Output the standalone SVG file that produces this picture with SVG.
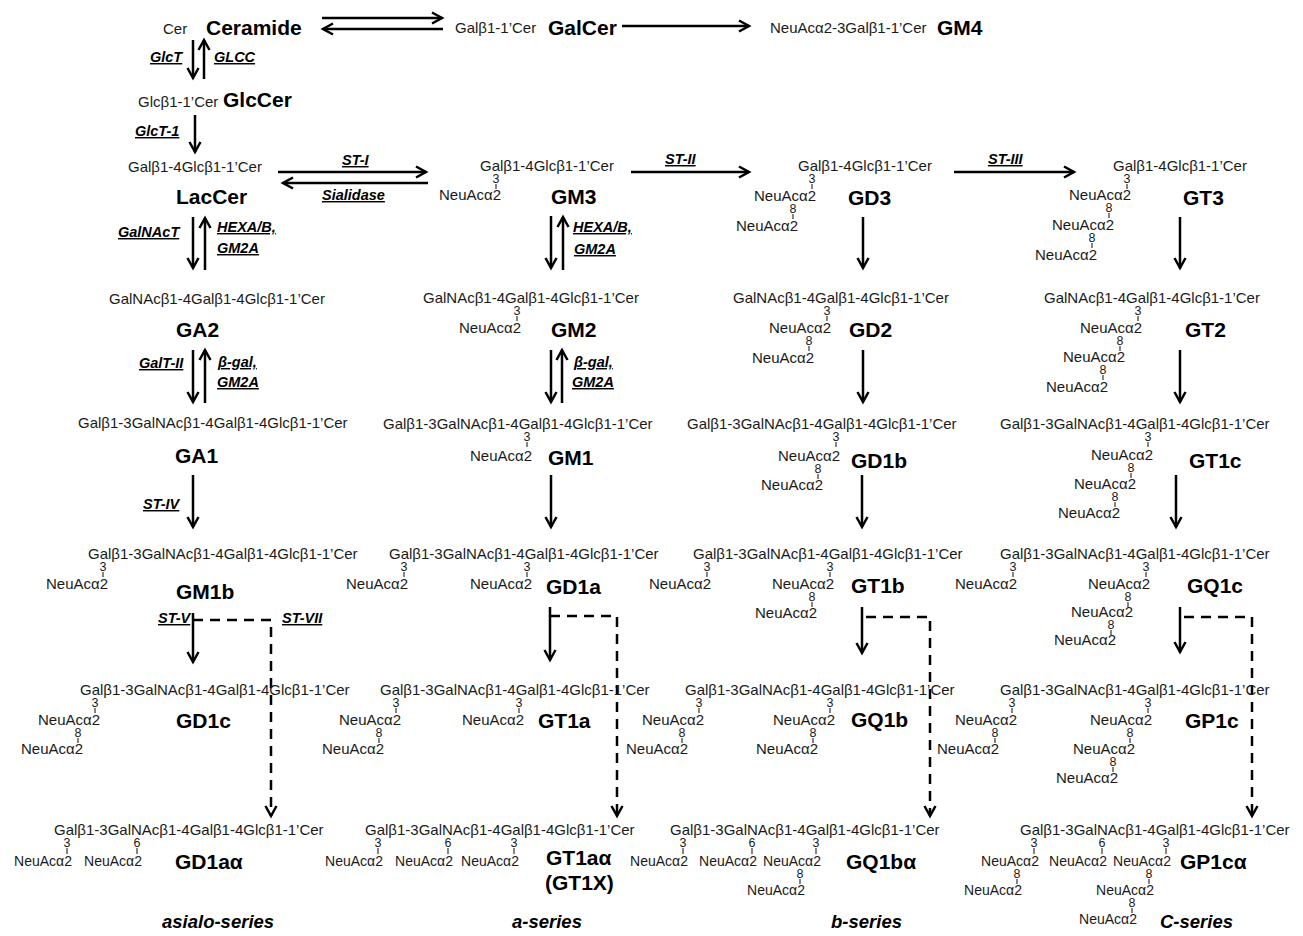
<svg xmlns="http://www.w3.org/2000/svg" width="1303" height="936" viewBox="0 0 1303 936">
<style>
text{font-family:"Liberation Sans",Arial,sans-serif;fill:#1a1a1a}
.t{font-size:15px}
.n{font-size:15px;text-anchor:end}
.m{font-size:15px}
.d{font-size:12.5px;text-anchor:middle}
.b{font-size:21px;font-weight:bold;fill:#000}
.e{font-size:14.5px;font-weight:bold;font-style:italic;text-decoration:underline;fill:#000}
.s{font-size:18.5px;font-weight:bold;font-style:italic;fill:#000}
.k{stroke:#333;stroke-width:1.2}
.a{stroke:#000;stroke-width:2.5;fill:none;marker-end:url(#ah)}
.ds{stroke-dasharray:10 7}
</style>
<defs>
<marker id="ah" viewBox="-13 -8 16 16" refX="0" refY="0" markerWidth="16" markerHeight="16" markerUnits="userSpaceOnUse" orient="auto">
<path d="M-10,-5.5 L0,0 L-10,5.5" fill="none" stroke="#000" stroke-width="2.5"/>
</marker>
</defs>
<rect width="1303" height="936" fill="#fff"/>

<g id="connectors">
<line class="a" x1="322" y1="18" x2="442" y2="18"/>
<line class="a" x1="443" y1="29" x2="323" y2="29"/>
<line class="a" x1="622" y1="26" x2="749" y2="26"/>
<line class="a" x1="193" y1="40" x2="193" y2="78"/>
<line class="a" x1="204" y1="79" x2="204" y2="40"/>
<line class="a" x1="195" y1="115" x2="195" y2="152"/>
<line class="a" x1="278" y1="172" x2="426" y2="172"/>
<line class="a" x1="428" y1="183" x2="283" y2="183"/>
<line class="a" x1="631" y1="172" x2="749" y2="172"/>
<line class="a" x1="954" y1="172" x2="1074" y2="172"/>
<line class="a" x1="193" y1="217" x2="193" y2="268"/>
<line class="a" x1="205" y1="270" x2="205" y2="218"/>
<line class="a" x1="551" y1="216" x2="551" y2="268"/>
<line class="a" x1="563" y1="270" x2="563" y2="217"/>
<line class="a" x1="863" y1="217" x2="863" y2="268"/>
<line class="a" x1="1180" y1="217" x2="1180" y2="268"/>
<line class="a" x1="193" y1="350" x2="193" y2="402"/>
<line class="a" x1="205" y1="403" x2="205" y2="350"/>
<line class="a" x1="551" y1="350" x2="551" y2="402"/>
<line class="a" x1="562" y1="403" x2="562" y2="350"/>
<line class="a" x1="863" y1="350" x2="863" y2="402"/>
<line class="a" x1="1180" y1="350" x2="1180" y2="402"/>
<line class="a" x1="193" y1="475" x2="193" y2="527"/>
<line class="a" x1="551" y1="475" x2="551" y2="527"/>
<line class="a" x1="862" y1="475" x2="862" y2="527"/>
<line class="a" x1="1176" y1="475" x2="1176" y2="527"/>
<line class="a" x1="193" y1="613" x2="193" y2="662"/>
<polyline class="a ds" points="193,620 271,620 271,816"/>
<line class="a" x1="550" y1="607" x2="550" y2="660"/>
<polyline class="a ds" points="550,616 617,616 617,816"/>
<line class="a" x1="862" y1="607" x2="862" y2="653"/>
<polyline class="a ds" points="866,617 930,617 930,816"/>
<line class="a" x1="1180" y1="607" x2="1180" y2="652"/>
<polyline class="a ds" points="1184,617 1252,617 1252,816"/>
</g>

<g id="enzymes">
<text class="e" x="150" y="62">GlcT</text>
<text class="e" x="214" y="62">GLCC</text>
<text class="e" x="135" y="136">GlcT-1</text>
<text class="e" x="342" y="165">ST-I</text>
<text class="e" x="322" y="200">Sialidase</text>
<text class="e" x="665" y="164">ST-II</text>
<text class="e" x="988" y="164">ST-III</text>
<text class="e" x="118" y="237">GalNAcT</text>
<text class="e" x="217" y="232">HEXA/B,</text>
<text class="e" x="217" y="253">GM2A</text>
<text class="e" x="573" y="232">HEXA/B,</text>
<text class="e" x="574" y="254">GM2A</text>
<text class="e" x="139" y="368">GalT-II</text>
<text class="e" x="218" y="367">β-gal,</text>
<text class="e" x="217" y="387">GM2A</text>
<text class="e" x="574" y="367">β-gal,</text>
<text class="e" x="572" y="387">GM2A</text>
<text class="e" x="143" y="509">ST-IV</text>
<text class="e" x="158" y="623">ST-V</text>
<text class="e" x="282" y="623">ST-VII</text>
</g>

<g id="Ceramide">
<text class="t" x="163" y="34">Cer</text>
<text class="b" x="206" y="35">Ceramide</text>
</g>
<g id="GalCer">
<text class="t" x="455" y="33">Galβ1-1’Cer</text>
<text class="b" x="548" y="35">GalCer</text>
</g>
<g id="GM4">
<text class="t" x="770" y="33">NeuAcα2-3Galβ1-1’Cer</text>
<text class="b" x="937" y="35">GM4</text>
</g>
<g id="GlcCer">
<text class="t" x="138" y="107">Glcβ1-1’Cer</text>
<text class="b" x="223" y="107">GlcCer</text>
</g>
<g id="LacCer">
<text class="t" x="128" y="172">Galβ1-4Glcβ1-1’Cer</text>
<text class="b" x="176" y="204">LacCer</text>
</g>
<g id="GM3">
<text class="t" x="480" y="171">Galβ1-4Glcβ1-1’Cer</text>
<text class="d" x="496" y="183">3</text><line class="k" x1="496" y1="184" x2="496" y2="189"/>
<text class="n" x="501" y="200">NeuAcα2</text>
<text class="b" x="551" y="204">GM3</text>
</g>
<g id="GD3">
<text class="t" x="798" y="171">Galβ1-4Glcβ1-1’Cer</text>
<text class="d" x="812" y="183">3</text><line class="k" x1="812" y1="184" x2="812" y2="189"/>
<text class="n" x="816" y="201">NeuAcα2</text>
<text class="d" x="793" y="213">8</text><line class="k" x1="793" y1="214" x2="793" y2="219"/>
<text class="n" x="798" y="231">NeuAcα2</text>
<text class="b" x="848" y="205">GD3</text>
</g>
<g id="GT3">
<text class="t" x="1113" y="171">Galβ1-4Glcβ1-1’Cer</text>
<text class="d" x="1127" y="183">3</text><line class="k" x1="1127" y1="184" x2="1127" y2="189"/>
<text class="n" x="1131" y="200">NeuAcα2</text>
<text class="d" x="1109" y="212">8</text><line class="k" x1="1109" y1="213" x2="1109" y2="218"/>
<text class="n" x="1114" y="230">NeuAcα2</text>
<text class="d" x="1092" y="242">8</text><line class="k" x1="1092" y1="243" x2="1092" y2="248"/>
<text class="n" x="1097" y="260">NeuAcα2</text>
<text class="b" x="1183" y="205">GT3</text>
</g>
<g id="GA2">
<text class="t" x="109" y="304">GalNAcβ1-4Galβ1-4Glcβ1-1’Cer</text>
<text class="b" x="176" y="337">GA2</text>
</g>
<g id="GM2">
<text class="t" x="423" y="303">GalNAcβ1-4Galβ1-4Glcβ1-1’Cer</text>
<text class="d" x="517" y="315">3</text><line class="k" x1="517" y1="316" x2="517" y2="321"/>
<text class="n" x="521" y="333">NeuAcα2</text>
<text class="b" x="551" y="337">GM2</text>
</g>
<g id="GD2">
<text class="t" x="733" y="303">GalNAcβ1-4Galβ1-4Glcβ1-1’Cer</text>
<text class="d" x="827" y="315">3</text><line class="k" x1="827" y1="316" x2="827" y2="321"/>
<text class="n" x="831" y="333">NeuAcα2</text>
<text class="d" x="809" y="345">8</text><line class="k" x1="809" y1="346" x2="809" y2="351"/>
<text class="n" x="814" y="363">NeuAcα2</text>
<text class="b" x="849" y="337">GD2</text>
</g>
<g id="GT2">
<text class="t" x="1044" y="303">GalNAcβ1-4Galβ1-4Glcβ1-1’Cer</text>
<text class="d" x="1138" y="315">3</text><line class="k" x1="1138" y1="316" x2="1138" y2="321"/>
<text class="n" x="1142" y="333">NeuAcα2</text>
<text class="d" x="1120" y="345">8</text><line class="k" x1="1120" y1="346" x2="1120" y2="351"/>
<text class="n" x="1125" y="362">NeuAcα2</text>
<text class="d" x="1103" y="374">8</text><line class="k" x1="1103" y1="375" x2="1103" y2="380"/>
<text class="n" x="1108" y="392">NeuAcα2</text>
<text class="b" x="1185" y="337">GT2</text>
</g>
<g id="GA1">
<text class="t" x="78" y="428">Galβ1-3GalNAcβ1-4Galβ1-4Glcβ1-1’Cer</text>
<text class="b" x="175" y="463">GA1</text>
</g>
<g id="GM1">
<text class="t" x="383" y="429">Galβ1-3GalNAcβ1-4Galβ1-4Glcβ1-1’Cer</text>
<text class="d" x="527" y="441">3</text><line class="k" x1="527" y1="442" x2="527" y2="447"/>
<text class="n" x="532" y="461">NeuAcα2</text>
<text class="b" x="548" y="465">GM1</text>
</g>
<g id="GD1b">
<text class="t" x="687" y="429">Galβ1-3GalNAcβ1-4Galβ1-4Glcβ1-1’Cer</text>
<text class="d" x="836" y="441">3</text><line class="k" x1="836" y1="442" x2="836" y2="447"/>
<text class="n" x="840" y="461">NeuAcα2</text>
<text class="d" x="818" y="473">8</text><line class="k" x1="818" y1="474" x2="818" y2="479"/>
<text class="n" x="823" y="490">NeuAcα2</text>
<text class="b" x="851" y="468">GD1b</text>
</g>
<g id="GT1c">
<text class="t" x="1000" y="429">Galβ1-3GalNAcβ1-4Galβ1-4Glcβ1-1’Cer</text>
<text class="d" x="1148" y="441">3</text><line class="k" x1="1148" y1="442" x2="1148" y2="447"/>
<text class="n" x="1153" y="460">NeuAcα2</text>
<text class="d" x="1131" y="472">8</text><line class="k" x1="1131" y1="473" x2="1131" y2="478"/>
<text class="n" x="1136" y="489">NeuAcα2</text>
<text class="d" x="1115" y="501">8</text><line class="k" x1="1115" y1="502" x2="1115" y2="507"/>
<text class="n" x="1120" y="518">NeuAcα2</text>
<text class="b" x="1189" y="468">GT1c</text>
</g>
<g id="GM1b">
<text class="t" x="88" y="559">Galβ1-3GalNAcβ1-4Galβ1-4Glcβ1-1’Cer</text>
<text class="d" x="103" y="571">3</text><line class="k" x1="103" y1="572" x2="103" y2="577"/>
<text class="n" x="108" y="589">NeuAcα2</text>
<text class="b" x="176" y="599">GM1b</text>
</g>
<g id="GD1a">
<text class="t" x="389" y="559">Galβ1-3GalNAcβ1-4Galβ1-4Glcβ1-1’Cer</text>
<text class="d" x="404" y="571">3</text><line class="k" x1="404" y1="572" x2="404" y2="577"/>
<text class="n" x="408" y="589">NeuAcα2</text>
<text class="d" x="527" y="571">3</text><line class="k" x1="527" y1="572" x2="527" y2="577"/>
<text class="n" x="532" y="589">NeuAcα2</text>
<text class="b" x="546" y="594">GD1a</text>
</g>
<g id="GT1b">
<text class="t" x="693" y="559">Galβ1-3GalNAcβ1-4Galβ1-4Glcβ1-1’Cer</text>
<text class="d" x="707" y="571">3</text><line class="k" x1="707" y1="572" x2="707" y2="577"/>
<text class="n" x="711" y="589">NeuAcα2</text>
<text class="d" x="830" y="571">3</text><line class="k" x1="830" y1="572" x2="830" y2="577"/>
<text class="n" x="834" y="589">NeuAcα2</text>
<text class="d" x="812" y="601">8</text><line class="k" x1="812" y1="602" x2="812" y2="607"/>
<text class="n" x="817" y="618">NeuAcα2</text>
<text class="b" x="851" y="593">GT1b</text>
</g>
<g id="GQ1c">
<text class="t" x="1000" y="559">Galβ1-3GalNAcβ1-4Galβ1-4Glcβ1-1’Cer</text>
<text class="d" x="1013" y="571">3</text><line class="k" x1="1013" y1="572" x2="1013" y2="577"/>
<text class="n" x="1017" y="589">NeuAcα2</text>
<text class="d" x="1146" y="571">3</text><line class="k" x1="1146" y1="572" x2="1146" y2="577"/>
<text class="n" x="1150" y="589">NeuAcα2</text>
<text class="d" x="1128" y="601">8</text><line class="k" x1="1128" y1="602" x2="1128" y2="607"/>
<text class="n" x="1133" y="617">NeuAcα2</text>
<text class="d" x="1111" y="629">8</text><line class="k" x1="1111" y1="630" x2="1111" y2="635"/>
<text class="n" x="1116" y="645">NeuAcα2</text>
<text class="b" x="1187" y="593">GQ1c</text>
</g>
<g id="GD1c">
<text class="t" x="80" y="695">Galβ1-3GalNAcβ1-4Galβ1-4Glcβ1-1’Cer</text>
<text class="d" x="95" y="707">3</text><line class="k" x1="95" y1="708" x2="95" y2="713"/>
<text class="n" x="100" y="725">NeuAcα2</text>
<text class="d" x="78" y="737">8</text><line class="k" x1="78" y1="738" x2="78" y2="743"/>
<text class="n" x="83" y="754">NeuAcα2</text>
<text class="b" x="176" y="728">GD1c</text>
</g>
<g id="GT1a">
<text class="t" x="380" y="695">Galβ1-3GalNAcβ1-4Galβ1-4Glcβ1-1’Cer</text>
<text class="d" x="396" y="707">3</text><line class="k" x1="396" y1="708" x2="396" y2="713"/>
<text class="n" x="401" y="725">NeuAcα2</text>
<text class="d" x="379" y="737">8</text><line class="k" x1="379" y1="738" x2="379" y2="743"/>
<text class="n" x="384" y="754">NeuAcα2</text>
<text class="d" x="519" y="707">3</text><line class="k" x1="519" y1="708" x2="519" y2="713"/>
<text class="n" x="524" y="725">NeuAcα2</text>
<text class="b" x="538" y="728">GT1a</text>
</g>
<g id="GQ1b">
<text class="t" x="685" y="695">Galβ1-3GalNAcβ1-4Galβ1-4Glcβ1-1’Cer</text>
<text class="d" x="699" y="707">3</text><line class="k" x1="699" y1="708" x2="699" y2="713"/>
<text class="n" x="704" y="725">NeuAcα2</text>
<text class="d" x="682" y="737">8</text><line class="k" x1="682" y1="738" x2="682" y2="743"/>
<text class="n" x="688" y="754">NeuAcα2</text>
<text class="d" x="830" y="707">3</text><line class="k" x1="830" y1="708" x2="830" y2="713"/>
<text class="n" x="835" y="725">NeuAcα2</text>
<text class="d" x="813" y="737">8</text><line class="k" x1="813" y1="738" x2="813" y2="743"/>
<text class="n" x="818" y="754">NeuAcα2</text>
<text class="b" x="851" y="727">GQ1b</text>
</g>
<g id="GP1c">
<text class="t" x="1000" y="695">Galβ1-3GalNAcβ1-4Galβ1-4Glcβ1-1’Cer</text>
<text class="d" x="1012" y="707">3</text><line class="k" x1="1012" y1="708" x2="1012" y2="713"/>
<text class="n" x="1017" y="725">NeuAcα2</text>
<text class="d" x="995" y="737">8</text><line class="k" x1="995" y1="738" x2="995" y2="743"/>
<text class="n" x="999" y="754">NeuAcα2</text>
<text class="d" x="1148" y="707">3</text><line class="k" x1="1148" y1="708" x2="1148" y2="713"/>
<text class="n" x="1152" y="725">NeuAcα2</text>
<text class="d" x="1130" y="737">8</text><line class="k" x1="1130" y1="738" x2="1130" y2="743"/>
<text class="n" x="1135" y="754">NeuAcα2</text>
<text class="d" x="1113" y="766">8</text><line class="k" x1="1113" y1="767" x2="1113" y2="772"/>
<text class="n" x="1118" y="783">NeuAcα2</text>
<text class="b" x="1185" y="728">GP1c</text>
</g>
<g id="GD1aalpha">
<text class="t" x="54" y="835">Galβ1-3GalNAcβ1-4Galβ1-4Glcβ1-1’Cer</text>
<text class="d" x="67" y="847">3</text><line class="k" x1="67" y1="848" x2="67" y2="854"/>
<text class="d" x="137" y="847">6</text><line class="k" x1="137" y1="848" x2="137" y2="854"/>
<text class="m" x="14" y="866" textLength="58" lengthAdjust="spacingAndGlyphs">NeuAcα2</text>
<text class="m" x="84" y="866" textLength="58" lengthAdjust="spacingAndGlyphs">NeuAcα2</text>
<text class="b" x="175" y="869">GD1aα</text>
</g>
<g id="GT1aalpha">
<text class="t" x="365" y="835">Galβ1-3GalNAcβ1-4Galβ1-4Glcβ1-1’Cer</text>
<text class="d" x="378" y="847">3</text><line class="k" x1="378" y1="848" x2="378" y2="854"/>
<text class="d" x="448" y="847">6</text><line class="k" x1="448" y1="848" x2="448" y2="854"/>
<text class="d" x="514" y="847">3</text><line class="k" x1="514" y1="848" x2="514" y2="854"/>
<text class="m" x="325" y="866" textLength="58" lengthAdjust="spacingAndGlyphs">NeuAcα2</text>
<text class="m" x="395" y="866" textLength="58" lengthAdjust="spacingAndGlyphs">NeuAcα2</text>
<text class="m" x="461" y="866" textLength="58" lengthAdjust="spacingAndGlyphs">NeuAcα2</text>
<text class="b" x="546" y="865">GT1aα</text>
<text class="b" x="545" y="890">(GT1X)</text>
</g>
<g id="GQ1balpha">
<text class="t" x="670" y="835">Galβ1-3GalNAcβ1-4Galβ1-4Glcβ1-1’Cer</text>
<text class="d" x="683" y="847">3</text><line class="k" x1="683" y1="848" x2="683" y2="854"/>
<text class="d" x="752" y="847">6</text><line class="k" x1="752" y1="848" x2="752" y2="854"/>
<text class="d" x="816" y="847">3</text><line class="k" x1="816" y1="848" x2="816" y2="854"/>
<text class="m" x="630" y="866" textLength="58" lengthAdjust="spacingAndGlyphs">NeuAcα2</text>
<text class="m" x="699" y="866" textLength="58" lengthAdjust="spacingAndGlyphs">NeuAcα2</text>
<text class="m" x="763" y="866" textLength="58" lengthAdjust="spacingAndGlyphs">NeuAcα2</text>
<text class="d" x="800" y="878">8</text><line class="k" x1="800" y1="879" x2="800" y2="884"/>
<text class="m" x="747" y="895" textLength="58" lengthAdjust="spacingAndGlyphs">NeuAcα2</text>
<text class="b" x="846" y="869">GQ1bα</text>
</g>
<g id="GP1calpha">
<text class="t" x="1020" y="835">Galβ1-3GalNAcβ1-4Galβ1-4Glcβ1-1’Cer</text>
<text class="d" x="1034" y="847">3</text><line class="k" x1="1034" y1="848" x2="1034" y2="854"/>
<text class="d" x="1102" y="847">6</text><line class="k" x1="1102" y1="848" x2="1102" y2="854"/>
<text class="d" x="1166" y="847">3</text><line class="k" x1="1166" y1="848" x2="1166" y2="854"/>
<text class="m" x="981" y="866" textLength="58" lengthAdjust="spacingAndGlyphs">NeuAcα2</text>
<text class="m" x="1049" y="866" textLength="58" lengthAdjust="spacingAndGlyphs">NeuAcα2</text>
<text class="m" x="1113" y="866" textLength="58" lengthAdjust="spacingAndGlyphs">NeuAcα2</text>
<text class="d" x="1017" y="878">8</text><line class="k" x1="1017" y1="879" x2="1017" y2="884"/>
<text class="m" x="964" y="895" textLength="58" lengthAdjust="spacingAndGlyphs">NeuAcα2</text>
<text class="d" x="1149" y="878">8</text><line class="k" x1="1149" y1="879" x2="1149" y2="884"/>
<text class="m" x="1096" y="895" textLength="58" lengthAdjust="spacingAndGlyphs">NeuAcα2</text>
<text class="d" x="1132" y="907">8</text><line class="k" x1="1132" y1="908" x2="1132" y2="913"/>
<text class="m" x="1079" y="924" textLength="58" lengthAdjust="spacingAndGlyphs">NeuAcα2</text>
<text class="b" x="1180" y="869">GP1cα</text>
</g>
<g id="series">
<text class="s" x="162" y="928">asialo-series</text>
<text class="s" x="512" y="928">a-series</text>
<text class="s" x="831" y="928">b-series</text>
<text class="s" x="1160" y="928">C-series</text>
</g>
</svg>
